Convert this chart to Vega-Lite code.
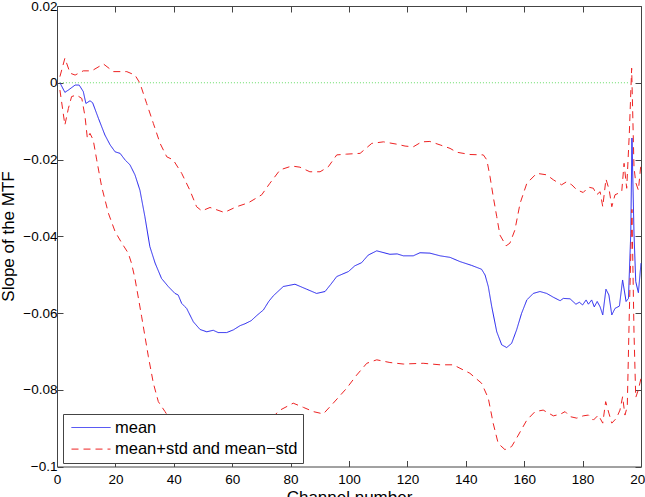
{
  "$schema": "https://vega.github.io/schema/vega-lite/v6.json",
  "autosize": {"type": "none"},
  "padding": {"left": 57, "top": 6, "right": 4, "bottom": 31},
  "width": 584,
  "height": 460.5,
  "config": {
    "view": {"stroke": null},
    "font": "Liberation Sans",
    "axis": {"grid": false, "domainColor": "#444444", "tickColor": "#444444", "labelColor": "#000000", "titleColor": "#000000", "labelFont": "Liberation Sans", "titleFont": "Liberation Sans", "titleFontWeight": "normal"}
  },
  "datasets": {
    "zero": [{"ch": 1, "v": 0}, {"ch": 196, "v": 0}],
    "lines": [
      {"ch": 1, "v": 0, "s": "mean", "p": "m"},
      {"ch": 2.7, "v": -0.0025, "s": "mean", "p": "m"},
      {"ch": 3.9, "v": -0.0019, "s": "mean", "p": "m"},
      {"ch": 6.2, "v": -0.0006, "s": "mean", "p": "m"},
      {"ch": 7.6, "v": -0.0006, "s": "mean", "p": "m"},
      {"ch": 9, "v": -0.0023, "s": "mean", "p": "m"},
      {"ch": 9.9, "v": -0.0054, "s": "mean", "p": "m"},
      {"ch": 11.3, "v": -0.0047, "s": "mean", "p": "m"},
      {"ch": 12.2, "v": -0.0052, "s": "mean", "p": "m"},
      {"ch": 14.2, "v": -0.0093, "s": "mean", "p": "m"},
      {"ch": 16.4, "v": -0.0136, "s": "mean", "p": "m"},
      {"ch": 18.2, "v": -0.0162, "s": "mean", "p": "m"},
      {"ch": 19.9, "v": -0.018, "s": "mean", "p": "m"},
      {"ch": 21.6, "v": -0.0184, "s": "mean", "p": "m"},
      {"ch": 23.3, "v": -0.0201, "s": "mean", "p": "m"},
      {"ch": 25, "v": -0.0214, "s": "mean", "p": "m"},
      {"ch": 26.7, "v": -0.024, "s": "mean", "p": "m"},
      {"ch": 28.4, "v": -0.028, "s": "mean", "p": "m"},
      {"ch": 30.1, "v": -0.0349, "s": "mean", "p": "m"},
      {"ch": 31.8, "v": -0.0427, "s": "mean", "p": "m"},
      {"ch": 33.6, "v": -0.047, "s": "mean", "p": "m"},
      {"ch": 35.8, "v": -0.051, "s": "mean", "p": "m"},
      {"ch": 38.1, "v": -0.0531, "s": "mean", "p": "m"},
      {"ch": 40.4, "v": -0.0549, "s": "mean", "p": "m"},
      {"ch": 41.5, "v": -0.0553, "s": "mean", "p": "m"},
      {"ch": 42.7, "v": -0.0575, "s": "mean", "p": "m"},
      {"ch": 44.4, "v": -0.0588, "s": "mean", "p": "m"},
      {"ch": 46.7, "v": -0.0623, "s": "mean", "p": "m"},
      {"ch": 49, "v": -0.0643, "s": "mean", "p": "m"},
      {"ch": 51.3, "v": -0.0649, "s": "mean", "p": "m"},
      {"ch": 53.5, "v": -0.0645, "s": "mean", "p": "m"},
      {"ch": 55.2, "v": -0.0651, "s": "mean", "p": "m"},
      {"ch": 58.1, "v": -0.0651, "s": "mean", "p": "m"},
      {"ch": 60.4, "v": -0.0644, "s": "mean", "p": "m"},
      {"ch": 62.7, "v": -0.0633, "s": "mean", "p": "m"},
      {"ch": 64.4, "v": -0.0628, "s": "mean", "p": "m"},
      {"ch": 66.5, "v": -0.062, "s": "mean", "p": "m"},
      {"ch": 68.5, "v": -0.0606, "s": "mean", "p": "m"},
      {"ch": 70.7, "v": -0.0592, "s": "mean", "p": "m"},
      {"ch": 72.5, "v": -0.057, "s": "mean", "p": "m"},
      {"ch": 74.1, "v": -0.0555, "s": "mean", "p": "m"},
      {"ch": 77.5, "v": -0.0531, "s": "mean", "p": "m"},
      {"ch": 81.5, "v": -0.0525, "s": "mean", "p": "m"},
      {"ch": 85.5, "v": -0.0538, "s": "mean", "p": "m"},
      {"ch": 88.9, "v": -0.0549, "s": "mean", "p": "m"},
      {"ch": 91.8, "v": -0.0544, "s": "mean", "p": "m"},
      {"ch": 93.8, "v": -0.0525, "s": "mean", "p": "m"},
      {"ch": 95.8, "v": -0.0505, "s": "mean", "p": "m"},
      {"ch": 99.8, "v": -0.0492, "s": "mean", "p": "m"},
      {"ch": 102, "v": -0.0477, "s": "mean", "p": "m"},
      {"ch": 104.3, "v": -0.0469, "s": "mean", "p": "m"},
      {"ch": 106.6, "v": -0.0449, "s": "mean", "p": "m"},
      {"ch": 109.5, "v": -0.0438, "s": "mean", "p": "m"},
      {"ch": 112, "v": -0.0443, "s": "mean", "p": "m"},
      {"ch": 114, "v": -0.0447, "s": "mean", "p": "m"},
      {"ch": 116.5, "v": -0.0446, "s": "mean", "p": "m"},
      {"ch": 118.6, "v": -0.0451, "s": "mean", "p": "m"},
      {"ch": 122, "v": -0.0451, "s": "mean", "p": "m"},
      {"ch": 124.3, "v": -0.0443, "s": "mean", "p": "m"},
      {"ch": 127.7, "v": -0.0444, "s": "mean", "p": "m"},
      {"ch": 131.2, "v": -0.0451, "s": "mean", "p": "m"},
      {"ch": 134.6, "v": -0.0455, "s": "mean", "p": "m"},
      {"ch": 138, "v": -0.0466, "s": "mean", "p": "m"},
      {"ch": 142, "v": -0.0476, "s": "mean", "p": "m"},
      {"ch": 145.4, "v": -0.0486, "s": "mean", "p": "m"},
      {"ch": 146.6, "v": -0.0501, "s": "mean", "p": "m"},
      {"ch": 147.7, "v": -0.0531, "s": "mean", "p": "m"},
      {"ch": 148.9, "v": -0.0584, "s": "mean", "p": "m"},
      {"ch": 150.6, "v": -0.0649, "s": "mean", "p": "m"},
      {"ch": 152.3, "v": -0.0683, "s": "mean", "p": "m"},
      {"ch": 154, "v": -0.069, "s": "mean", "p": "m"},
      {"ch": 155.7, "v": -0.0679, "s": "mean", "p": "m"},
      {"ch": 157.4, "v": -0.0644, "s": "mean", "p": "m"},
      {"ch": 159.1, "v": -0.0601, "s": "mean", "p": "m"},
      {"ch": 160.9, "v": -0.0566, "s": "mean", "p": "m"},
      {"ch": 163.1, "v": -0.0549, "s": "mean", "p": "m"},
      {"ch": 165.4, "v": -0.0544, "s": "mean", "p": "m"},
      {"ch": 167.7, "v": -0.0549, "s": "mean", "p": "m"},
      {"ch": 170, "v": -0.0559, "s": "mean", "p": "m"},
      {"ch": 172.3, "v": -0.0568, "s": "mean", "p": "m"},
      {"ch": 173.4, "v": -0.0562, "s": "mean", "p": "m"},
      {"ch": 175.7, "v": -0.0563, "s": "mean", "p": "m"},
      {"ch": 177.7, "v": -0.0577, "s": "mean", "p": "m"},
      {"ch": 178.9, "v": -0.0572, "s": "mean", "p": "m"},
      {"ch": 180, "v": -0.0579, "s": "mean", "p": "m"},
      {"ch": 181.2, "v": -0.0566, "s": "mean", "p": "m"},
      {"ch": 182, "v": -0.0577, "s": "mean", "p": "m"},
      {"ch": 183.1, "v": -0.0566, "s": "mean", "p": "m"},
      {"ch": 184, "v": -0.0584, "s": "mean", "p": "m"},
      {"ch": 185, "v": -0.057, "s": "mean", "p": "m"},
      {"ch": 186, "v": -0.0584, "s": "mean", "p": "m"},
      {"ch": 186.9, "v": -0.0605, "s": "mean", "p": "m"},
      {"ch": 188, "v": -0.0538, "s": "mean", "p": "m"},
      {"ch": 189, "v": -0.0553, "s": "mean", "p": "m"},
      {"ch": 190, "v": -0.0605, "s": "mean", "p": "m"},
      {"ch": 191.1, "v": -0.0588, "s": "mean", "p": "m"},
      {"ch": 192.6, "v": -0.0582, "s": "mean", "p": "m"},
      {"ch": 193.7, "v": -0.0514, "s": "mean", "p": "m"},
      {"ch": 194.9, "v": -0.057, "s": "mean", "p": "m"},
      {"ch": 195.7, "v": -0.0562, "s": "mean", "p": "m"},
      {"ch": 196.5, "v": -0.0392, "s": "mean", "p": "m"},
      {"ch": 196.9, "v": -0.0144, "s": "mean", "p": "m"},
      {"ch": 197.6, "v": -0.0392, "s": "mean", "p": "m"},
      {"ch": 198.2, "v": -0.0518, "s": "mean", "p": "m"},
      {"ch": 199.1, "v": -0.0547, "s": "mean", "p": "m"},
      {"ch": 200, "v": -0.047, "s": "mean", "p": "m"},

      {"ch": 1, "v": 0.0016, "s": "std", "p": "u"},
      {"ch": 2.7, "v": 0.0064, "s": "std", "p": "u"},
      {"ch": 4.5, "v": 0.0025, "s": "std", "p": "u"},
      {"ch": 6.2, "v": 0.002, "s": "std", "p": "u"},
      {"ch": 9, "v": 0.0031, "s": "std", "p": "u"},
      {"ch": 11.9, "v": 0.0031, "s": "std", "p": "u"},
      {"ch": 15.9, "v": 0.0049, "s": "std", "p": "u"},
      {"ch": 19.3, "v": 0.0029, "s": "std", "p": "u"},
      {"ch": 23.9, "v": 0.0029, "s": "std", "p": "u"},
      {"ch": 26.7, "v": 0.002, "s": "std", "p": "u"},
      {"ch": 28.4, "v": -0.0001, "s": "std", "p": "u"},
      {"ch": 30.7, "v": -0.0054, "s": "std", "p": "u"},
      {"ch": 33, "v": -0.0106, "s": "std", "p": "u"},
      {"ch": 35.3, "v": -0.0158, "s": "std", "p": "u"},
      {"ch": 37.6, "v": -0.0193, "s": "std", "p": "u"},
      {"ch": 39.8, "v": -0.0201, "s": "std", "p": "u"},
      {"ch": 42.7, "v": -0.0236, "s": "std", "p": "u"},
      {"ch": 45.5, "v": -0.028, "s": "std", "p": "u"},
      {"ch": 47.8, "v": -0.0323, "s": "std", "p": "u"},
      {"ch": 49.6, "v": -0.0334, "s": "std", "p": "u"},
      {"ch": 52.4, "v": -0.0325, "s": "std", "p": "u"},
      {"ch": 57.3, "v": -0.0338, "s": "std", "p": "u"},
      {"ch": 61.5, "v": -0.0323, "s": "std", "p": "u"},
      {"ch": 65.5, "v": -0.0313, "s": "std", "p": "u"},
      {"ch": 70.1, "v": -0.0292, "s": "std", "p": "u"},
      {"ch": 72.9, "v": -0.0262, "s": "std", "p": "u"},
      {"ch": 76.4, "v": -0.0227, "s": "std", "p": "u"},
      {"ch": 80.4, "v": -0.0217, "s": "std", "p": "u"},
      {"ch": 83.2, "v": -0.022, "s": "std", "p": "u"},
      {"ch": 86.6, "v": -0.0232, "s": "std", "p": "u"},
      {"ch": 90.1, "v": -0.0232, "s": "std", "p": "u"},
      {"ch": 92.9, "v": -0.0219, "s": "std", "p": "u"},
      {"ch": 95.8, "v": -0.0188, "s": "std", "p": "u"},
      {"ch": 99.2, "v": -0.0186, "s": "std", "p": "u"},
      {"ch": 103.8, "v": -0.0184, "s": "std", "p": "u"},
      {"ch": 107.8, "v": -0.0158, "s": "std", "p": "u"},
      {"ch": 111.8, "v": -0.0154, "s": "std", "p": "u"},
      {"ch": 116.3, "v": -0.016, "s": "std", "p": "u"},
      {"ch": 119.2, "v": -0.0165, "s": "std", "p": "u"},
      {"ch": 122, "v": -0.0167, "s": "std", "p": "u"},
      {"ch": 124.9, "v": -0.0154, "s": "std", "p": "u"},
      {"ch": 127.7, "v": -0.0153, "s": "std", "p": "u"},
      {"ch": 131.2, "v": -0.0162, "s": "std", "p": "u"},
      {"ch": 134.6, "v": -0.0171, "s": "std", "p": "u"},
      {"ch": 136.9, "v": -0.0181, "s": "std", "p": "u"},
      {"ch": 141.4, "v": -0.0187, "s": "std", "p": "u"},
      {"ch": 146, "v": -0.0188, "s": "std", "p": "u"},
      {"ch": 147.2, "v": -0.0201, "s": "std", "p": "u"},
      {"ch": 148.3, "v": -0.0245, "s": "std", "p": "u"},
      {"ch": 149.4, "v": -0.0297, "s": "std", "p": "u"},
      {"ch": 150.6, "v": -0.0349, "s": "std", "p": "u"},
      {"ch": 151.7, "v": -0.0397, "s": "std", "p": "u"},
      {"ch": 153.8, "v": -0.0425, "s": "std", "p": "u"},
      {"ch": 155.1, "v": -0.0418, "s": "std", "p": "u"},
      {"ch": 156.8, "v": -0.0384, "s": "std", "p": "u"},
      {"ch": 158.6, "v": -0.0314, "s": "std", "p": "u"},
      {"ch": 160.9, "v": -0.0262, "s": "std", "p": "u"},
      {"ch": 164.3, "v": -0.0236, "s": "std", "p": "u"},
      {"ch": 167.7, "v": -0.024, "s": "std", "p": "u"},
      {"ch": 170, "v": -0.0253, "s": "std", "p": "u"},
      {"ch": 172.8, "v": -0.0266, "s": "std", "p": "u"},
      {"ch": 174.5, "v": -0.0258, "s": "std", "p": "u"},
      {"ch": 176.3, "v": -0.0266, "s": "std", "p": "u"},
      {"ch": 178, "v": -0.0279, "s": "std", "p": "u"},
      {"ch": 180.2, "v": -0.0286, "s": "std", "p": "u"},
      {"ch": 182, "v": -0.0272, "s": "std", "p": "u"},
      {"ch": 183.7, "v": -0.0275, "s": "std", "p": "u"},
      {"ch": 184.8, "v": -0.0292, "s": "std", "p": "u"},
      {"ch": 186, "v": -0.0284, "s": "std", "p": "u"},
      {"ch": 186.9, "v": -0.0323, "s": "std", "p": "u"},
      {"ch": 188, "v": -0.0251, "s": "std", "p": "u"},
      {"ch": 189.1, "v": -0.0279, "s": "std", "p": "u"},
      {"ch": 190, "v": -0.0323, "s": "std", "p": "u"},
      {"ch": 191.1, "v": -0.0292, "s": "std", "p": "u"},
      {"ch": 193.4, "v": -0.0284, "s": "std", "p": "u"},
      {"ch": 194.2, "v": -0.021, "s": "std", "p": "u"},
      {"ch": 195.1, "v": -0.0275, "s": "std", "p": "u"},
      {"ch": 196, "v": -0.0132, "s": "std", "p": "u"},
      {"ch": 196.8, "v": 0.0038, "s": "std", "p": "u"},
      {"ch": 197.6, "v": -0.022, "s": "std", "p": "u"},
      {"ch": 198.2, "v": -0.026, "s": "std", "p": "u"},
      {"ch": 199.1, "v": -0.028, "s": "std", "p": "u"},
      {"ch": 200, "v": -0.021, "s": "std", "p": "u"},

      {"ch": 1, "v": -0.0019, "s": "std", "p": "l"},
      {"ch": 2.7, "v": -0.011, "s": "std", "p": "l"},
      {"ch": 3.9, "v": -0.0067, "s": "std", "p": "l"},
      {"ch": 5, "v": -0.0036, "s": "std", "p": "l"},
      {"ch": 6.7, "v": -0.0032, "s": "std", "p": "l"},
      {"ch": 8.5, "v": -0.0041, "s": "std", "p": "l"},
      {"ch": 9.6, "v": -0.0088, "s": "std", "p": "l"},
      {"ch": 10.4, "v": -0.0145, "s": "std", "p": "l"},
      {"ch": 11.3, "v": -0.0132, "s": "std", "p": "l"},
      {"ch": 12.4, "v": -0.0149, "s": "std", "p": "l"},
      {"ch": 13.6, "v": -0.0201, "s": "std", "p": "l"},
      {"ch": 15.3, "v": -0.0271, "s": "std", "p": "l"},
      {"ch": 17.6, "v": -0.034, "s": "std", "p": "l"},
      {"ch": 19.9, "v": -0.0388, "s": "std", "p": "l"},
      {"ch": 22.2, "v": -0.0418, "s": "std", "p": "l"},
      {"ch": 24.4, "v": -0.0444, "s": "std", "p": "l"},
      {"ch": 25.5, "v": -0.047, "s": "std", "p": "l"},
      {"ch": 26.7, "v": -0.051, "s": "std", "p": "l"},
      {"ch": 29, "v": -0.061, "s": "std", "p": "l"},
      {"ch": 31.3, "v": -0.0714, "s": "std", "p": "l"},
      {"ch": 33, "v": -0.0783, "s": "std", "p": "l"},
      {"ch": 34.7, "v": -0.0831, "s": "std", "p": "l"},
      {"ch": 37, "v": -0.0857, "s": "std", "p": "l"},
      {"ch": 40, "v": -0.0893, "s": "std", "p": "l"},
      {"ch": 43, "v": -0.09, "s": "std", "p": "l"},
      {"ch": 46, "v": -0.0915, "s": "std", "p": "l"},
      {"ch": 50, "v": -0.0958, "s": "std", "p": "l"},
      {"ch": 55, "v": -0.0965, "s": "std", "p": "l"},
      {"ch": 60, "v": -0.0963, "s": "std", "p": "l"},
      {"ch": 65, "v": -0.094, "s": "std", "p": "l"},
      {"ch": 70, "v": -0.089, "s": "std", "p": "l"},
      {"ch": 74, "v": -0.087, "s": "std", "p": "l"},
      {"ch": 76.4, "v": -0.0853, "s": "std", "p": "l"},
      {"ch": 80.9, "v": -0.0835, "s": "std", "p": "l"},
      {"ch": 84.4, "v": -0.0846, "s": "std", "p": "l"},
      {"ch": 87.8, "v": -0.0857, "s": "std", "p": "l"},
      {"ch": 91.2, "v": -0.0863, "s": "std", "p": "l"},
      {"ch": 94.6, "v": -0.0835, "s": "std", "p": "l"},
      {"ch": 99.2, "v": -0.0796, "s": "std", "p": "l"},
      {"ch": 102.6, "v": -0.0762, "s": "std", "p": "l"},
      {"ch": 106.1, "v": -0.0731, "s": "std", "p": "l"},
      {"ch": 109.5, "v": -0.0722, "s": "std", "p": "l"},
      {"ch": 114, "v": -0.0729, "s": "std", "p": "l"},
      {"ch": 118.6, "v": -0.0733, "s": "std", "p": "l"},
      {"ch": 125.4, "v": -0.0731, "s": "std", "p": "l"},
      {"ch": 131.2, "v": -0.0735, "s": "std", "p": "l"},
      {"ch": 135.7, "v": -0.0735, "s": "std", "p": "l"},
      {"ch": 138, "v": -0.0744, "s": "std", "p": "l"},
      {"ch": 141.4, "v": -0.0757, "s": "std", "p": "l"},
      {"ch": 145.4, "v": -0.0783, "s": "std", "p": "l"},
      {"ch": 147.7, "v": -0.0822, "s": "std", "p": "l"},
      {"ch": 149.4, "v": -0.0888, "s": "std", "p": "l"},
      {"ch": 151.1, "v": -0.094, "s": "std", "p": "l"},
      {"ch": 153.4, "v": -0.0956, "s": "std", "p": "l"},
      {"ch": 155.7, "v": -0.0948, "s": "std", "p": "l"},
      {"ch": 158, "v": -0.0918, "s": "std", "p": "l"},
      {"ch": 160.9, "v": -0.0879, "s": "std", "p": "l"},
      {"ch": 163.7, "v": -0.0857, "s": "std", "p": "l"},
      {"ch": 166.5, "v": -0.0853, "s": "std", "p": "l"},
      {"ch": 170, "v": -0.0868, "s": "std", "p": "l"},
      {"ch": 172.3, "v": -0.0864, "s": "std", "p": "l"},
      {"ch": 174, "v": -0.0857, "s": "std", "p": "l"},
      {"ch": 175.7, "v": -0.087, "s": "std", "p": "l"},
      {"ch": 178, "v": -0.0874, "s": "std", "p": "l"},
      {"ch": 180.2, "v": -0.0868, "s": "std", "p": "l"},
      {"ch": 182, "v": -0.0866, "s": "std", "p": "l"},
      {"ch": 183.7, "v": -0.0879, "s": "std", "p": "l"},
      {"ch": 185.4, "v": -0.0866, "s": "std", "p": "l"},
      {"ch": 186.9, "v": -0.0887, "s": "std", "p": "l"},
      {"ch": 187.9, "v": -0.0831, "s": "std", "p": "l"},
      {"ch": 189, "v": -0.0861, "s": "std", "p": "l"},
      {"ch": 190, "v": -0.0887, "s": "std", "p": "l"},
      {"ch": 191.6, "v": -0.0874, "s": "std", "p": "l"},
      {"ch": 192.8, "v": -0.0853, "s": "std", "p": "l"},
      {"ch": 193.7, "v": -0.0818, "s": "std", "p": "l"},
      {"ch": 194.5, "v": -0.0866, "s": "std", "p": "l"},
      {"ch": 195.3, "v": -0.0844, "s": "std", "p": "l"},
      {"ch": 196, "v": -0.06, "s": "std", "p": "l"},
      {"ch": 196.9, "v": -0.033, "s": "std", "p": "l"},
      {"ch": 197.6, "v": -0.065, "s": "std", "p": "l"},
      {"ch": 198.2, "v": -0.082, "s": "std", "p": "l"},
      {"ch": 199.1, "v": -0.08, "s": "std", "p": "l"},
      {"ch": 200, "v": -0.077, "s": "std", "p": "l"}
    ]
  },
  "resolve": {"axis": {"x": "independent", "y": "independent"}},
  "layer": [
    {
      "data": {"name": "zero"},
      "mark": {"type": "line", "color": "#66dd66", "strokeWidth": 1, "strokeDash": [1, 2]},
      "encoding": {
        "x": {"field": "ch", "type": "quantitative", "scale": {"domain": [0, 200], "nice": false, "zero": false},
              "axis": {"orient": "top", "values": [0, 20, 40, 60, 80, 100, 120, 140, 160, 180, 200], "labels": false, "title": null, "tickSize": -6, "domain": true}},
        "y": {"field": "v", "type": "quantitative", "scale": {"domain": [-0.1, 0.02], "nice": false, "zero": false},
              "axis": {"orient": "right", "values": [-0.1, -0.08, -0.06, -0.04, -0.02, 0, 0.02], "labels": false, "title": null, "tickSize": -6, "domain": true}}
      }
    },
    {
      "data": {"name": "lines"},
      "mark": {"type": "line", "strokeWidth": 1},
      "encoding": {
        "x": {"field": "ch", "type": "quantitative", "scale": {"domain": [0, 200], "nice": false, "zero": false},
              "axis": {"orient": "bottom", "values": [0, 20, 40, 60, 80, 100, 120, 140, 160, 180, 200], "format": "d", "labelFontSize": 13.5, "labelPadding": 12, "labelFlush": false, "labelOverlap": false, "tickSize": -6,
                       "title": "Channel number", "titleFontSize": 17, "titleBaseline": "top", "titleY": 23, "titleX": 292}},
        "y": {"field": "v", "type": "quantitative", "scale": {"domain": [-0.1, 0.02], "nice": false, "zero": false},
              "axis": {"orient": "left", "values": [-0.1, -0.08, -0.06, -0.04, -0.02, 0, 0.02], "format": "~g", "labelFontSize": 13.5, "labelPadding": 6, "labelFlush": false, "labelOverlap": false, "tickSize": -6,
                       "title": "Slope of the MTF", "titleFontSize": 17, "titleBaseline": "alphabetic", "titleX": -44, "titleY": 230, "titleAngle": -90}},
        "color": {"field": "s", "type": "nominal", "scale": {"domain": ["mean", "std"], "range": ["#2222ee", "#ee2222"]},
                  "legend": {"orient": "none", "legendX": 6, "legendY": 408, "title": null, "direction": "vertical", "fillColor": "#ffffff", "strokeColor": "#444444", "padding": 5, "symbolType": "stroke", "symbolSize": 1521, "symbolStrokeWidth": 1, "symbolOffset": 3, "labelOffset": 4, "rowPadding": 4.6, "clipHeight": 17, "labelLimit": 0, "labelFont": "Liberation Sans", "labelFontSize": 16.5, "labelColor": "#000000",
                             "labelExpr": "datum.label == 'mean' ? 'mean' : 'mean+std and mean\u2212std'"}},
        "strokeDash": {"field": "s", "type": "nominal", "scale": {"domain": ["mean", "std"], "range": [[1, 0], [7, 5]]}, "legend": null},
        "detail": {"field": "p", "type": "nominal"}
      }
    }
  ]
}
